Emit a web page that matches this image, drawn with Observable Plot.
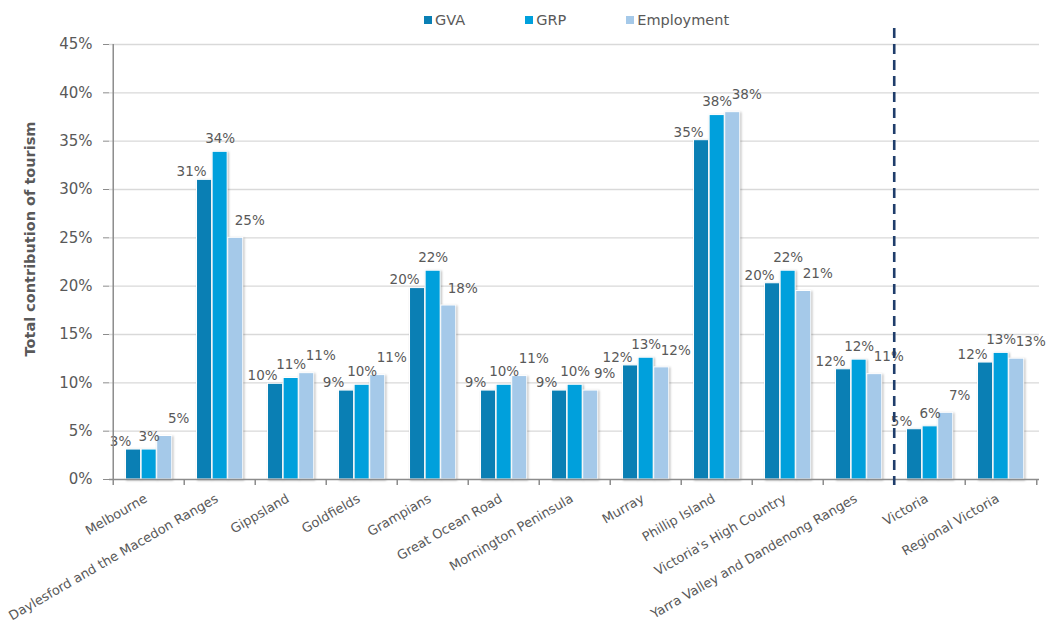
<!DOCTYPE html>
<html><head><meta charset="utf-8">
<script src="https://cdn.jsdelivr.net/npm/d3@7"></script>
<script src="https://cdn.jsdelivr.net/npm/@observablehq/plot@0.6"></script>
<style>
body{margin:0;background:#fff;font-family:"DejaVu Sans",Verdana,sans-serif;}
#legend{height:28px;box-sizing:border-box;padding-top:12px;padding-left:424px;display:flex;gap:60px;font-size:14.5px;line-height:16px;color:#595959;}
.item{display:flex;align-items:center;gap:3px}
.sw{width:8px;height:8px;display:inline-block}
#chart svg g[aria-label="bar"] rect{filter:drop-shadow(1px 1px 1.2px rgba(0,0,0,0.28));}
</style></head><body><div id="legend"></div><div id="chart"></div>
<script>
const categories = ["Melbourne","Daylesford and the Macedon Ranges","Gippsland","Goldfields","Grampians","Great Ocean Road","Mornington Peninsula","Murray","Phillip Island","Victoria's High Country","Yarra Valley and Dandenong Ranges","Victoria","Regional Victoria"];
const gva        = [3.1, 31.0,  9.9, 9.2, 19.8, 9.2, 9.2, 11.8, 35.1, 20.3, 11.4, 5.2, 12.1];
const grp        = [3.1, 33.9, 10.5, 9.8, 21.6, 9.8, 9.8, 12.6, 37.7, 21.6, 12.4, 5.5, 13.1];
const employment = [4.5, 25.0, 11.0, 10.8, 18.0, 10.7, 9.2, 11.6, 38.0, 19.5, 10.9, 6.9, 12.5];
const gvaLabels        = ["3%","31%","10%","9%","20%","9%","9%","12%","35%","20%","12%","5%","12%"];
const grpLabels        = ["3%","34%","11%","10%","22%","10%","10%","13%","38%","22%","12%","6%","13%"];
const employmentLabels = ["5%","25%","11%","11%","18%","11%","9%","12%","38%","21%","11%","7%","13%"];
const seriesNames  = ["GVA","GRP","Employment"];
const seriesColors = ["#0a7fb4","#00a0dc","#a5c9e9"];
const yTicks = [0,5,10,15,20,25,30,35,40,45];
const yTickLabels = ["0%","5%","10%","15%","20%","25%","30%","35%","40%","45%"];
const yTitle = "Total contribution of tourism";
const dividerBefore = "Victoria";

const seriesValues = [gva, grp, employment];
const seriesLabels = [gvaLabels, grpLabels, employmentLabels];
const rows = seriesNames.map((s, k) => categories.map((c, i) => ({category: c, series: s, value: seriesValues[k][i], label: seriesLabels[k][i]})));

// legend
const lg = document.getElementById("legend");
seriesNames.forEach((s, k) => {
  const it = document.createElement("div"); it.className = "item";
  const sw = document.createElement("span"); sw.className = "sw"; sw.style.background = seriesColors[k];
  const tx = document.createElement("span"); tx.textContent = s;
  it.appendChild(sw); it.appendChild(tx); lg.appendChild(it);
});

const W = 1055, H = 599, ML = 109, MR = 16, MT = 16, MB = 148;
const bw = (W - ML - MR) / categories.length;
const groupLeft = bw * 0.175, barW = bw * 0.218;
const grey = "#8c8c8c", txt = "#595959";
const labelOffsets = [{dx: -13, dy: -8}, {dx: 0, dy: -13}, {dx: 14, dy: -17}];

const marks = [
  Plot.ruleY(yTicks.filter(t => t > 0), {stroke: "#d9d9d9", strokeWidth: 1.3}),
];
rows.forEach((data, k) => {
  const left = groupLeft + k * barW;
  marks.push(Plot.barY(data, {x: "category", y: "value", fill: seriesColors[k], stroke: "white", strokeWidth: 1,
    insetLeft: left, insetRight: bw - left - barW}));
});
rows.forEach((data, k) => {
  const center = groupLeft + k * barW + barW / 2 - bw / 2;
  marks.push(Plot.text(data, {x: "category", y: "value", text: "label", fill: txt, fontSize: 13.5,
    dx: center + labelOffsets[k].dx, dy: labelOffsets[k].dy, lineAnchor: "middle"}));
});
marks.push(
  Plot.ruleY([0], {stroke: grey, strokeWidth: 1.5}),
  Plot.ruleX([categories[0]], {x: d => d, y1: 45, y2: 0, dx: -bw / 2, stroke: grey, strokeWidth: 1.5}),
  Plot.ruleX(categories, {x: d => d, y1: 0, y2: 0, dx: -bw / 2, insetBottom: -6, stroke: grey, strokeWidth: 1.5}),
  Plot.ruleX([categories[categories.length - 1]], {x: d => d, y1: 0, y2: 0, dx: bw / 2, insetBottom: -6, stroke: grey, strokeWidth: 1.5}),
  Plot.ruleX([dividerBefore], {x: d => d, y1: 45, y2: 0, dx: -bw / 2, insetTop: -16, insetBottom: -6, stroke: "#1f3d6b", strokeWidth: 2.6, strokeDasharray: "10,6"}),
  Plot.axisY({ticks: yTicks, tickFormat: (d) => yTickLabels[yTicks.indexOf(d)], tickSize: 6, tickPadding: 11, stroke: grey, fill: txt, fontSize: 15, label: null}),
  Plot.axisX({tickSize: 0, tickRotate: -30, tickPadding: 18, dx: -3, fill: txt, fontSize: 13, label: null}),
  Plot.text([yTitle], {frameAnchor: "left", textAnchor: "middle", dx: -79, dy: -23, rotate: -90, fill: txt, fontSize: 14.5, fontWeight: "bold"})
);

const chart = Plot.plot({
  width: W, height: H, marginLeft: ML, marginRight: MR, marginTop: MT, marginBottom: MB,
  style: {fontFamily: "'DejaVu Sans', Verdana, sans-serif", background: "white", color: txt},
  x: {domain: categories, padding: 0, label: null},
  y: {domain: [0, 45], label: null},
  marks
});
document.getElementById("chart").appendChild(chart);
</script></body></html>
